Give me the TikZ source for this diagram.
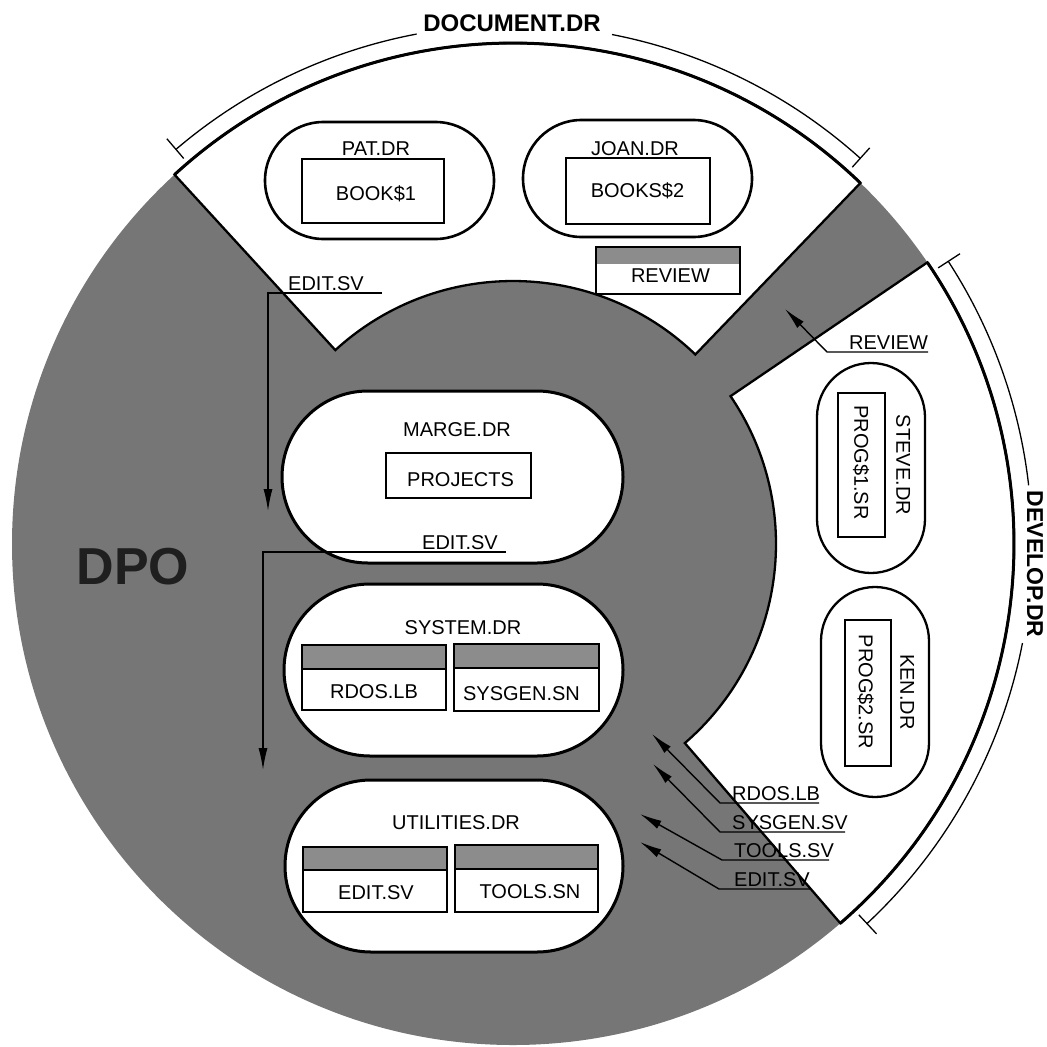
\documentclass[tikz,border=0pt]{standalone}
\usepackage{fontspec}
\setmainfont{Liberation Sans}
\usetikzlibrary{arrows.meta,calc}
\definecolor{discgray}{HTML}{767676}
\definecolor{bandgray}{HTML}{8C8C8C}
\begin{document}
\begin{tikzpicture}[x=1pt,y=-1pt,
  lbl/.style={font=\fontsize{20}{24}\selectfont, inner sep=0pt, text height=14.3pt, text depth=0pt},
  stadium/.style={draw, fill=white, line width=2.6pt, inner sep=0pt, outer sep=0pt},
  plainbox/.style={draw, fill=white, line width=1.5pt, inner sep=0pt, outer sep=0pt},
  bandbox/.style={draw, fill=white, line width=2.4pt, inner sep=0pt, outer sep=0pt},
  bandfill/.style={draw, fill=bandgray, line width=2.4pt},
  conn/.style={line width=1.4pt, -{Latex[length=22pt,width=9pt]}},
  bracketline/.style={line width=1.3pt},
  sectoredge/.style={line width=2.3pt, line join=miter},
  sectorrim/.style={line width=3pt},
  bigtitle/.style={font=\fontsize{24}{28}\selectfont\bfseries, inner sep=0pt},
]
\useasboundingbox (0,0) rectangle (1047,1047);
\coordinate (C) at (513,544);
% disc
\fill[discgray] (C) circle[radius=501];
% DOCUMENT sector
\path[fill=white, draw, sectoredge] ($(C)+(-132.5:263)$) -- ($(C)+(-132.5:501)$)
  arc[start angle=-132.5, end angle=-46.1, radius=501] -- ($(C)+(-46.1:263)$)
  arc[start angle=-46.1, end angle=-132.5, radius=263] -- cycle;
\draw[sectorrim] ($(C)+(-132.5:501)$) arc[start angle=-132.5, end angle=-46.1, radius=501];
% DEVELOP sector
\path[fill=white, draw, sectoredge] ($(C)+(-34.2:263)$) -- ($(C)+(-34.2:501)$)
  arc[start angle=-34.2, end angle=49.2, radius=501] -- ($(C)+(49.2:263)$)
  arc[start angle=49.2, end angle=-34.2, radius=263] -- cycle;
\draw[sectorrim] ($(C)+(-34.2:501)$) arc[start angle=-34.2, end angle=49.2, radius=501];

% brackets
\node[bigtitle] (docttl) at (512,23) {DOCUMENT.DR};
\draw[bracketline] ($(C)+(-48:519)$) arc[start angle=-48, end angle=-79, radius=519];
\draw[bracketline] ($(C)+(-100.7:519)$) arc[start angle=-100.7, end angle=-130.5, radius=519];
\draw[bracketline] ($(C)+(-48:507)$) -- ($(C)+(-48:533)$);
\draw[bracketline] ($(C)+(-130.5:507)$) -- ($(C)+(-130.5:533)$);

\node[bigtitle, font=\fontsize{23}{28}\selectfont\bfseries, rotate=-90] (devttl) at (1035,564) {DEVELOP.DR};
\draw[bracketline] ($(C)+(-33:519)$) arc[start angle=-33, end angle=-6.5, radius=519];
\draw[bracketline] ($(C)+(11:519)$) arc[start angle=11, end angle=47, radius=519];
\draw[bracketline] ($(C)+(-33:507)$) -- ($(C)+(-33:533)$);
\draw[bracketline] ($(C)+(47:507)$) -- ($(C)+(47:533)$);

% DPO
\node[font=\fontsize{52}{56}\selectfont\bfseries, text=black!88, inner sep=0pt] (dpo) at (133,567) {DPO};

% PAT.DR
\node[stadium, minimum width=229pt, minimum height=117pt, rounded corners=58.5pt] (pat) at (379.5,180.5) {};
\node[lbl] (patlbl) at (376,148) {PAT.DR};
\node[plainbox, minimum width=142pt, minimum height=64pt] (book1) at (373,191) {};
\node[lbl] (book1txt) at (376,193) {BOOK\$1};
% JOAN.DR
\node[stadium, minimum width=229pt, minimum height=117pt, rounded corners=58.5pt] (joan) at (637.5,178.5) {};
\node[lbl] (joanlbl) at (635,148) {JOAN.DR};
\node[plainbox, minimum width=144pt, minimum height=66pt] (book2) at (638,191) {};
\node[lbl] (book2txt) at (637.5,190.5) {BOOKS\$2};
% REVIEW box
\node[plainbox, minimum width=144pt, minimum height=47pt] (revbox) at (668,270.5) {};
\fill[bandgray] (revbox.north west) rectangle ([yshift=-17pt]revbox.north east);
\draw[line width=1.8pt] (revbox.north west) rectangle (revbox.south east);
\node[lbl] (revtxt) at (670.5,275.5) {REVIEW};

% MARGE.DR
\node[stadium, line width=3pt, minimum width=341pt, minimum height=172pt, rounded corners=86pt] (marge) at (452.5,477) {};
\node[lbl] (margelbl) at (457,429) {MARGE.DR};
\node[plainbox, minimum width=145pt, minimum height=45pt] (proj) at (458.5,475.5) {};
\node[lbl] (projtxt) at (460.5,479.5) {PROJECTS};

% SYSTEM.DR
\node[stadium, line width=3pt, minimum width=339pt, minimum height=172pt, rounded corners=86pt] (system) at (453.5,670) {};
\node[lbl] (systemlbl) at (463,627) {SYSTEM.DR};
\node[bandbox, minimum width=144pt, minimum height=65pt] (rdosbox) at (374,677.5) {};
\draw[bandfill] (rdosbox.north west) rectangle ([yshift=-24pt]rdosbox.north east);
\node[lbl] (rdostxt) at (374,691.5) {RDOS.LB};
\node[bandbox, minimum width=145pt, minimum height=67pt] (sysgenbox) at (526.5,677.5) {};
\draw[bandfill] (sysgenbox.north west) rectangle ([yshift=-24pt]sysgenbox.north east);
\node[lbl] (sysgentxt) at (521.5,693) {SYSGEN.SN};

% UTILITIES.DR
\node[stadium, line width=3pt, minimum width=338pt, minimum height=172pt, rounded corners=86pt] (util) at (454,866) {};
\node[lbl] (utillbl) at (456,822) {UTILITIES.DR};
\node[bandbox, minimum width=144pt, minimum height=65pt] (editbox) at (375,879.5) {};
\draw[bandfill] (editbox.north west) rectangle ([yshift=-23pt]editbox.north east);
\node[lbl] (edittxt) at (376,892) {EDIT.SV};
\node[bandbox, minimum width=143pt, minimum height=67pt] (toolsbox) at (526.5,878.5) {};
\draw[bandfill] (toolsbox.north west) rectangle ([yshift=-24pt]toolsbox.north east);
\node[lbl] (toolstxt) at (530,891) {TOOLS.SN};

% STEVE.DR
\node[stadium, line width=2.3pt, minimum width=108pt, minimum height=210pt, rounded corners=54pt] (steve) at (871,468) {};
\node[lbl, rotate=-90] (stevelbl) at (903.5,465) {STEVE.DR};
\node[plainbox, line width=2pt, minimum width=47pt, minimum height=144pt] (prog1) at (861.5,465) {};
\node[lbl, rotate=-90] (prog1txt) at (861.5,462.5) {PROG\$1.SR};
% KEN.DR
\node[stadium, line width=2.3pt, minimum width=108pt, minimum height=210pt, rounded corners=54pt] (ken) at (875,692) {};
\node[lbl, rotate=-90] (kenlbl) at (907.5,692) {KEN.DR};
\node[plainbox, line width=2pt, minimum width=46pt, minimum height=146pt] (prog2) at (868,693) {};
\node[lbl, rotate=-90] (prog2txt) at (866,692) {PROG\$2.SR};

% arrows: EDIT.SV into MARGE
\node[lbl, anchor=base west] (e1) at (288,290) {EDIT.SV};
\coordinate (e1r) at (382,293);
\coordinate (e1l) at (268,293);
\coordinate (e1tip) at (268,511);
\draw[conn] (e1r) -- (e1l) -- (e1tip);
% EDIT.SV into SYSTEM
\node[lbl, anchor=base west] (e2) at (422,549) {EDIT.SV};
\coordinate (e2r) at (506,552);
\coordinate (e2l) at (263,552);
\coordinate (e2tip) at (263,770);
\draw[conn] (e2r) -- (e2l) -- (e2tip);
% REVIEW into gap
\node[lbl, anchor=base west] (rv) at (849,349) {REVIEW};
\coordinate (rvr) at (928,352);
\coordinate (rvl) at (827,352);
\coordinate (rvtip) at (785,309);
\draw[conn] (rvr) -- (rvl) -- (rvtip);
% lower right arrows
\node[lbl, anchor=base west] (a1) at (732,800) {RDOS.LB};
\coordinate (a1r) at (819,803);
\coordinate (a1l) at (720,803);
\coordinate (a1tip) at (652,734);
\draw[conn] (a1r) -- (a1l) -- (a1tip);
\node[lbl, anchor=base west] (a2) at (732,829) {SYSGEN.SV};
\coordinate (a2r) at (845,832);
\coordinate (a2l) at (720,832);
\coordinate (a2tip) at (653,764);
\draw[conn] (a2r) -- (a2l) -- (a2tip);
\node[lbl, anchor=base west] (a3) at (734,857) {TOOLS.SV};
\coordinate (a3r) at (829,860);
\coordinate (a3l) at (722,860);
\coordinate (a3tip) at (640,814);
\draw[conn] (a3r) -- (a3l) -- (a3tip);
\node[lbl, anchor=base west] (a4) at (734,886) {EDIT.SV};
\coordinate (a4r) at (810,889);
\coordinate (a4l) at (719,889);
\coordinate (a4tip) at (640,842);
\draw[conn] (a4r) -- (a4l) -- (a4tip);
\end{tikzpicture}
\end{document}
